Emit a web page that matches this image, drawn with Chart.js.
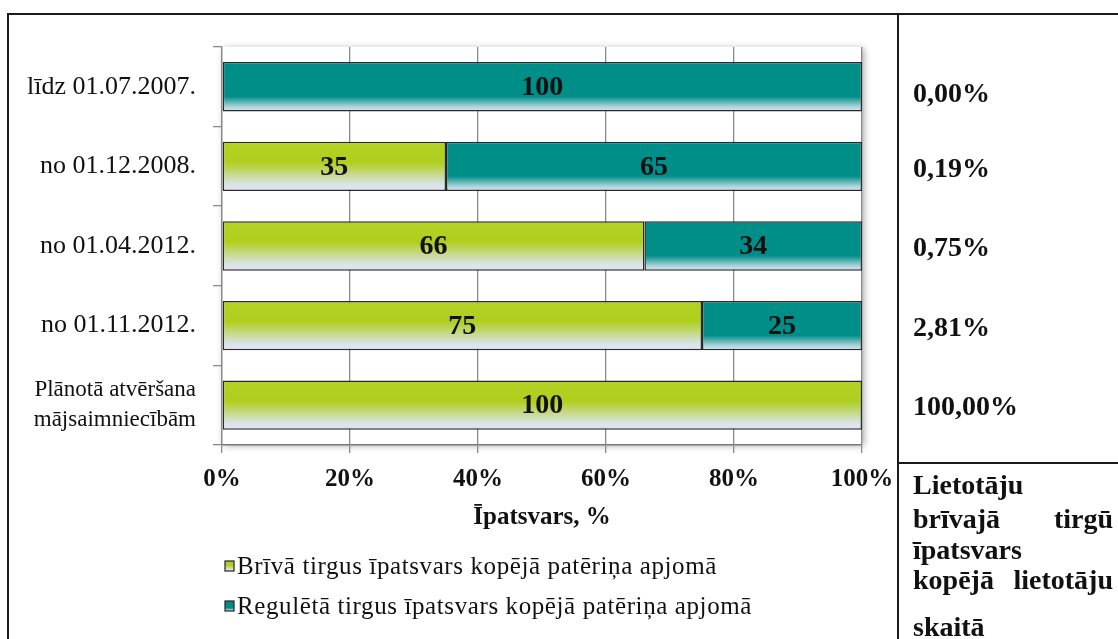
<!DOCTYPE html>
<html><head><meta charset="utf-8">
<script src="https://cdn.jsdelivr.net/npm/chart.js@4.4.0/dist/chart.umd.min.js"></script>
<style>
html,body{margin:0;padding:0;background:#fff;}
#wrap{position:relative;width:1118px;height:639px;overflow:hidden;background:#fff;}
canvas{position:absolute;left:0;top:0;}
.ln{position:absolute;background:#1a1a1a;}
.txt{position:absolute;left:913px;width:200px;font:bold 28px "Liberation Serif",serif;color:#111;line-height:30px;white-space:nowrap;}
.j{display:flex;justify-content:space-between;}
</style></head><body>
<div id="wrap">
<canvas id="c" width="1118" height="639"></canvas>
<div class="ln" style="left:7px;top:13px;width:1111px;height:2px"></div>
<div class="ln" style="left:7px;top:13px;width:2px;height:626px"></div>
<div class="ln" style="left:897px;top:13px;width:2px;height:626px"></div>
<div class="ln" style="left:897px;top:462px;width:221px;height:2px"></div>
<div class="txt" style="top:470px">Lietotāju</div>
<div class="txt j" style="top:504px"><span>brīvajā</span><span>tirgū</span></div>
<div class="txt" style="top:535px">īpatsvars</div>
<div class="txt j" style="top:565px"><span>kopējā</span><span>lietotāju</span></div>
<div class="txt" style="top:612px">skaitā</div>
</div>
<script>
const categories = ['līdz 01.07.2007.', 'no 01.12.2008.', 'no 01.04.2012.', 'no 01.11.2012.', ['Plānotā atvēršana', 'mājsaimniecībām']];
const freeMarket = [0, 35, 66, 75, 100];
const regulatedMarket = [100, 65, 34, 25, 0];
const userShare = ['0,00%', '0,19%', '0,75%', '2,81%', '100,00%'];
const seriesNames = ['Brīvā tirgus īpatsvars kopējā patēriņa apjomā', 'Regulētā tirgus īpatsvars kopējā patēriņa apjomā'];
const xTickValues = [0, 20, 40, 60, 80, 100];
const axisTitle = 'Īpatsvars, %';

const FONT = '"Liberation Serif", "Times New Roman", serif';
const BAR_PCT = 0.62;
const greenStops = [[0, '#b3d324'], [0.42, '#afcf1f'], [0.88, '#dbe3ec'], [1, '#dfe6f3']];
const tealStops = [[0, '#008e89'], [0.7, '#008e89'], [0.9, '#a8d3d8'], [1, '#dbe7f2']];

function barFill(stops) {
  return (ctx) => {
    const chart = ctx.chart;
    const ys = chart.scales && chart.scales.y;
    if (!ys || ctx.type !== 'data' || !ys.height) return stops[0][1];
    const c = ys.getPixelForValue(ctx.dataIndex);
    const h = ys.height / categories.length * BAR_PCT;
    const g = chart.ctx.createLinearGradient(0, c - h / 2, 0, c + h / 2);
    stops.forEach(([o, col]) => g.addColorStop(o, col));
    return g;
  };
}

const decor = {
  id: 'decor',
  beforeDraw(chart) {
    const {ctx, chartArea: a} = chart;
    ctx.save();
    ctx.shadowColor = 'rgba(0,0,0,0.35)';
    ctx.shadowBlur = 7;
    ctx.shadowOffsetX = 2;
    ctx.shadowOffsetY = 1;
    ctx.fillStyle = '#fff';
    ctx.fillRect(a.left, a.top, a.right - a.left, a.bottom - a.top);
    ctx.restore();
  },
  afterDatasetsDraw(chart) {
    const {ctx} = chart;
    ctx.save();
    ctx.font = 'bold 28px ' + FONT;
    ctx.fillStyle = '#111';
    ctx.textAlign = 'center';
    ctx.textBaseline = 'middle';
    chart.data.datasets.forEach((ds, di) => {
      chart.getDatasetMeta(di).data.forEach((bar, i) => {
        const v = ds.data[i];
        if (!v) return;
        ctx.fillText(String(v), (bar.x + bar.base) / 2, bar.y + 1);
      });
    });
    ctx.restore();
  },
  afterDraw(chart) {
    const {ctx, chartArea: a} = chart;
    const ys = chart.scales.y;
    ctx.save();
    ctx.font = 'bold 28px ' + FONT;
    ctx.fillStyle = '#111';
    ctx.textAlign = 'left';
    ctx.textBaseline = 'middle';
    userShare.forEach((t, i) => {
      ctx.fillText(t, 913, ys.getPixelForValue(i) + 3 + (i === 0 ? 5 : 0));
    });
    ctx.font = '25px ' + FONT;
    try { ctx.letterSpacing = '0.6px'; } catch (e) {}
    const stopsList = [greenStops, tealStops];
    chart.data.datasets.forEach((ds, di) => {
      const cy = a.bottom + 121 + di * 40;
      const g = ctx.createLinearGradient(0, cy - 5, 0, cy + 5);
      stopsList[di].forEach(([o, col]) => g.addColorStop(o, col));
      ctx.fillStyle = g;
      ctx.fillRect(225, cy - 5, 9, 10);
      ctx.strokeStyle = '#222';
      ctx.lineWidth = 1.2;
      ctx.strokeRect(225, cy - 5, 9, 10);
      ctx.fillStyle = '#111';
      ctx.fillText(ds.label, 237, cy + 1);
    });
    ctx.restore();
  }
};

new Chart(document.getElementById('c'), {
  type: 'bar',
  data: {
    labels: categories,
    datasets: [
      {label: seriesNames[0], data: freeMarket, backgroundColor: barFill(greenStops)},
      {label: seriesNames[1], data: regulatedMarket, backgroundColor: barFill(tealStops)}
    ]
  },
  options: {
    indexAxis: 'y',
    responsive: false,
    animation: false,
    events: [],
    layout: {padding: {left: 0, top: 44, right: 256, bottom: 94}},
    datasets: {
      bar: {
        categoryPercentage: 1,
        barPercentage: BAR_PCT,
        borderColor: '#2a2a2a',
        borderWidth: 1.5,
        borderSkipped: false
      }
    },
    plugins: {legend: {display: false}, tooltip: {enabled: false}},
    scales: {
      x: {
        stacked: true,
        min: 0, max: 100,
        afterFit: s => { s.height = 100; },
        afterBuildTicks: s => { s.ticks = xTickValues.map(v => ({value: v})); },
        ticks: {
          padding: 12,
          color: '#111',
          font: {family: FONT, size: 25, weight: 'bold'},
          callback: v => v + '%'
        },
        grid: {color: '#8a8a8a', lineWidth: 1.3, tickLength: 8, drawTicks: true},
        border: {color: '#7a7a7a', width: 1.5},
        title: {
          display: true,
          text: axisTitle,
          color: '#111',
          font: {family: FONT, size: 25, weight: 'bold'},
          padding: {top: 0, bottom: 12}
        }
      },
      y: {
        stacked: true,
        afterFit: s => { s.width = 222; },
        ticks: {
          padding: 17,
          color: '#111',
          font: c => ({family: FONT, size: Array.isArray(categories[c.index]) ? 23 : 26, lineHeight: 1.3})
        },
        grid: {drawOnChartArea: false, color: '#8a8a8a', tickLength: 9, lineWidth: 1.3},
        border: {color: '#8a8a8a', width: 1.3}
      }
    }
  },
  plugins: [decor]
});
</script>
</body></html>
